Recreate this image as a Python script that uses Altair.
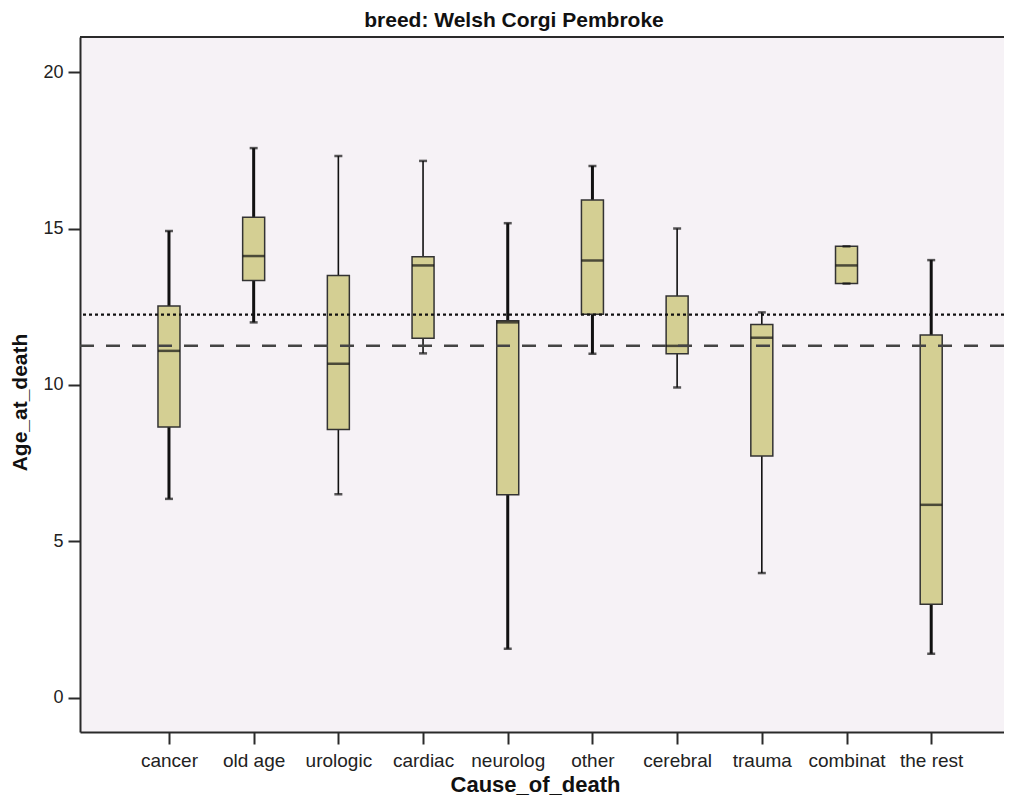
import altair as alt
import pandas as pd

# ---- data ----
causes = ["cancer", "old age", "urologic", "cardiac", "neurolog",
          "other", "cerebral", "trauma", "combinat", "the rest"]
whisker_low = [6.36, 12.0, 6.51, 11.01, 1.57, 11.0, 9.92, 3.99, 13.24, 1.41]
q1 = [8.66, 13.34, 8.58, 11.49, 6.49, 12.26, 11.0, 7.73, 13.24, 2.99]
median = [11.09, 14.12, 10.68, 13.82, 12.0, 13.98, 11.25, 11.51, 13.82, 6.17]
q3 = [12.52, 15.36, 13.5, 14.1, 12.05, 15.91, 12.84, 11.93, 14.43, 11.6]
whisker_high = [14.92, 17.57, 17.32, 17.16, 15.17, 17.0, 15.0, 12.32, 14.43, 13.99]
dotted_ref = [12.25]
dashed_ref = [11.25]
y_ticks = [0, 5, 10, 15, 20]

# ---- style (not data) ----
THICK = {"cancer", "old age", "neurolog", "other", "the rest"}
FONT = "Liberation Sans"
BOX_FILL = "#d4cf93"
BG = "#f6f2f6"
INK = "#2a2a2a"

df = pd.DataFrame({
    "cause": causes, "wlo": whisker_low, "q1": q1, "med": median,
    "q3": q3, "whi": whisker_high,
})
df["ww"] = [3.0 if c in THICK else 1.6 for c in causes]

YT = "Age_at_death"
yscale = alt.Scale(domain=[-1.09, 21.12], nice=False, zero=False)
yaxis = alt.Axis(title=YT, values=y_ticks, grid=False, tickSize=12, tickWidth=2,
                 tickColor=INK, domainColor=INK, domainWidth=2, labelPadding=5,
                 titlePadding=12, titleY=365,
                 labelFont=FONT, labelFontSize=18, labelColor="#222",
                 titleFont=FONT, titleFontSize=21, titleFontWeight="bold",
                 titleColor="#111")
xscale = alt.Scale(type="point", padding=0.955, align=0.55)
xaxis = alt.Axis(title="Cause_of_death", labelAngle=0, tickSize=12, tickWidth=2,
                 tickColor=INK, domainColor=INK, domainWidth=2, labelPadding=7,
                 titlePadding=4, titleX=455, grid=False,
                 labelFont=FONT, labelFontSize=19, labelColor="#222",
                 titleFont=FONT, titleFontSize=22, titleFontWeight="bold",
                 titleColor="#111")


def X():
    return alt.X("cause:N", sort=causes, scale=xscale, axis=xaxis)


def Y(field):
    return alt.Y(f"{field}:Q", scale=yscale, axis=yaxis, title=YT)


base = alt.Chart(df)

whiskers = base.mark_rule(color="#111").encode(
    x=X(), y=Y("wlo"), y2="whi:Q",
    strokeWidth=alt.StrokeWidth("ww:Q", scale=None, legend=None))

boxes = base.mark_bar(size=22, fill=BOX_FILL, stroke="#333", strokeWidth=1.5).encode(
    x=X(), y=Y("q1"), y2="q3:Q")

medians = base.mark_tick(color="#111", size=22, thickness=2.5).encode(
    x=X(), y=Y("med"))

caps_lo = base.mark_tick(color="#111", size=8, thickness=2.5).encode(x=X(), y=Y("wlo"))
caps_hi = base.mark_tick(color="#111", size=8, thickness=2.5).encode(x=X(), y=Y("whi"))

dotted = alt.Chart(pd.DataFrame({"v": dotted_ref})).mark_rule(
    color="#111", strokeWidth=2.2, strokeDash=[3, 3]).encode(y=Y("v"))
dashed = alt.Chart(pd.DataFrame({"v": dashed_ref})).mark_rule(
    color="#444", strokeWidth=2.5, strokeDash=[14, 12]).encode(y=Y("v"))

top_border = alt.Chart(pd.DataFrame({"v": [0]})).mark_rule(
    color=INK, strokeWidth=2).encode(y=alt.value(0))

chart = alt.layer(
    whiskers, boxes, medians, caps_lo, caps_hi, dotted, dashed, top_border
).properties(
    width=924, height=695,
    background="white",
    autosize=alt.AutoSizeParams(type="none"),
    padding={"left": 72, "top": 29, "right": 0, "bottom": 68},
    title=alt.TitleParams("breed: Welsh Corgi Pembroke", font=FONT, fontSize=21,
                          fontWeight="bold", color="#111", dx=-28, offset=5),
).configure_view(
    fill=BG, strokeWidth=0, stroke=None
)

chart.save("out.html", embed_options={"renderer": "svg", "actions": False})
